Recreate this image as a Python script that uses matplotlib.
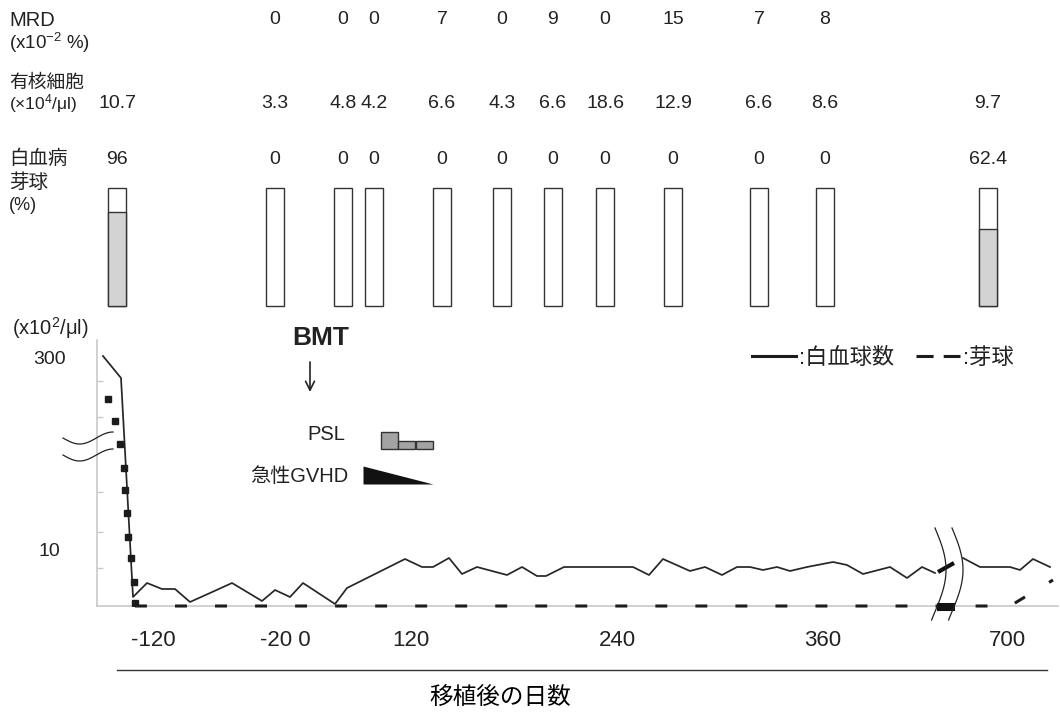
import numpy as np
import matplotlib
matplotlib.use("Agg")
import matplotlib.pyplot as plt
from matplotlib.lines import Line2D

plt.rcParams["font.family"] = ["Liberation Sans", "Noto Sans CJK JP"]
plt.rcParams["mathtext.default"] = "regular"
plt.rcParams["text.color"] = "#222222"

# ==========================================================
# Data (x = position on the timeline, y = plotted height)
# ==========================================================

# marrow samples along the timeline
sample_pos = [20, 178, 246, 277, 345, 405, 456, 508, 576, 662, 728, 891]
mrd = ["", "0", "0", "0", "7", "0", "9", "0", "15", "7", "8", ""]
nucleated = ["10.7", "3.3", "4.8", "4.2", "6.6", "4.3", "6.6", "18.6", "12.9", "6.6", "8.6", "9.7"]
blast_pct = [96, 0, 0, 0, 0, 0, 0, 0, 0, 0, 0, 62.4]
blast_fill = [0.80, 0, 0, 0, 0, 0, 0, 0, 0, 0, 0, 0.65]

# white blood cell count
wbc_x = [6, 24, 36, 50, 65, 78, 93, 113, 135, 165, 178, 193, 206, 238, 250,
         308, 325, 336, 352, 365, 380, 410, 425, 440, 449, 467, 536, 552,
         566, 593, 608, 625, 640, 653, 666, 680, 693, 710, 736, 750, 766,
         793, 810, 825, 838, np.nan, 866, 883, 913, 923, 936, 953]
wbc_y = [250, 228, 9, 23, 17, 17, 4, 13, 23, 5, 16, 9, 23, 2, 18,
         47, 39, 39, 48, 32, 39, 31, 39, 30, 30, 39, 39, 31,
         47, 35, 39, 31, 39, 39, 36, 39, 35, 39, 44, 41, 32,
         39, 28, 39, 33, np.nan, 48, 39, 39, 36, 47, 39]
wbc_break_x = [841, 857]
wbc_break_y = [34, 43]

# blasts
blast_drop_x = [11, 18, 23, 27, 28, 30, 31, 34, 37, 38]
blast_drop_y = [207, 185, 162, 138, 116, 93, 69, 48, 24, 3]
blast_x = [38, 913, 956]
blast_y = [0, 0, 26]
blast_break_x = [840, 858]
blast_break_y = [-1, -1]

# PSL steps and acute GVHD
psl_start = [284, 301, 319]
psl_height = [17, 8, 8]
gvhd_x = [266, 336]
gvhd_grade = [18, 0]

day_tick_pos = [56, 188, 314, 520, 726, 910]
day_tick_labels = ["-120", "-20 0", "120", "240", "360", "700"]
wbc_tick_pos = [248, 56]
wbc_tick_labels = ["300", "10"]
wbc_minor_pos = [225, 189, 114, 74, 38]

INK = "#1c1c1c"
GRID = "#c8c8c8"

# ==========================================================
# Figure
# ==========================================================

W, H = 1060, 714
fig = plt.figure(figsize=(W / 100, H / 100), dpi=100)

ax_top = fig.add_axes([97 / W, (H - 320) / H, 961 / W, 320 / H])
ax = fig.add_axes([97 / W, (H - 606) / H, 961 / W, 266 / H])

# ----------------------------------------------------------
# Top panel: marrow findings
# ----------------------------------------------------------

ax_top.set_xlim(0, 961)
ax_top.set_ylim(0, 320)
ax_top.axis("off")

ax_top.bar(sample_pos, 118, bottom=14, width=18,
           facecolor="white", edgecolor="#333333", linewidth=1)
fill_pos = [p for p, f in zip(sample_pos, blast_fill) if f > 0]
fill_h = [f * 118 for f in blast_fill if f > 0]
ax_top.bar(fill_pos, fill_h, bottom=14, width=18,
           facecolor="#d3d3d3", edgecolor="#333333", linewidth=1)

for x, m, n, b in zip(sample_pos, mrd, nucleated, blast_pct):
    ax_top.text(x, 300, m, ha="center", va="center", fontsize=14)
    ax_top.text(x, 217, n, ha="center", va="center", fontsize=14)
    ax_top.text(x, 161, f"{b:g}", ha="center", va="center", fontsize=14)

row_labels = [
    (300, "MRD", 14.5),
    (277, "(x10$^{-2}$ %)", 13.5),
    (237, "有核細胞", 13.5),
    (216, "(×10$^4$/μl)", 12.5),
    (161, "白血病", 14),
    (137, "芽球", 14),
    (114, "(%)", 13),
]
for y, label, size in row_labels:
    ax_top.text(-88, y, label, ha="left", va="center", fontsize=size)

# ----------------------------------------------------------
# Bottom panel: blood counts
# ----------------------------------------------------------

ax.set_xlim(0, 961)
ax.set_ylim(0, 266)
for side in ["top", "right"]:
    ax.spines[side].set_visible(False)
for side in ["left", "bottom"]:
    ax.spines[side].set_color(GRID)
    ax.spines[side].set_linewidth(1.2)

ax.plot(wbc_x, wbc_y, color="#262626", linewidth=1.25, zorder=3)
ax.plot(wbc_break_x, wbc_break_y, color="#111111", linewidth=3,
        solid_capstyle="butt", zorder=3)

ax.plot(blast_drop_x, blast_drop_y, linestyle="none", marker="s",
        markersize=3.8, color=INK, zorder=3)
ax.plot(blast_x, blast_y, color=INK, linewidth=2.2, dashes=(3.9, 9.2),
        clip_on=False, zorder=3)
ax.plot(blast_break_x, blast_break_y, color="#111111", linewidth=5.8,
        solid_capstyle="butt", clip_on=False, zorder=3)

# axis break marks
t = np.linspace(0, 1, 60)
for c in (168, 151):
    ax.plot(-34 + 50 * t, c + 6 * np.sin(np.pi * (1.5 * t + 1)),
            color="#222222", linewidth=0.9, clip_on=False, zorder=4)
for c in (838, 855):
    ax.plot(c + 11 * np.sin(np.pi * 1.1 * t), 78 - 92 * t,
            color="#222222", linewidth=0.9, clip_on=False, zorder=4)

# ticks
ax.set_yticks(wbc_tick_pos, wbc_tick_labels)
ax.tick_params(axis="y", which="major", length=0, pad=34, labelsize=14,
               labelcolor="#222222")
for lbl in ax.get_yticklabels():
    lbl.set_ha("center")
ax.set_yticks(wbc_minor_pos, minor=True)
ax.tick_params(axis="y", which="minor", direction="in", length=4.5,
               color=GRID, width=1)

ax.set_xticks(day_tick_pos, day_tick_labels)
ax.tick_params(axis="x", length=0, pad=17, labelsize=16,
               labelcolor="#222222")

ax.set_xlabel("移植後の日数", fontsize=17)
ax.xaxis.set_label_coords(0.42, -0.305)

sec = ax.secondary_xaxis(-64 / 266)
sec.set_xticks([])
sec.spines["bottom"].set_bounds(20, 950)
sec.spines["bottom"].set_color("#333333")
sec.spines["bottom"].set_linewidth(1)

ax.text(-85, 278, "(x10$^2$/μl)", ha="left", va="center", fontsize=14.5)

# BMT marker
ax.text(224, 268, "BMT", ha="center", va="center", fontsize=19,
        fontweight="bold")
ax.annotate("", xy=(213, 214), xytext=(213, 244),
            arrowprops=dict(arrowstyle="->", color="#222222", lw=1.2,
                            mutation_scale=16, shrinkA=0, shrinkB=0))

# PSL
ax.bar(psl_start, psl_height, width=17, bottom=157, align="edge",
       facecolor="#a3a3a3", edgecolor="#333333", linewidth=1)
ax.text(248, 171, "PSL", ha="right", va="center", fontsize=14.5)

# acute GVHD
ax.fill_between(gvhd_x, 122, [122 + g for g in gvhd_grade],
                color="#111111", linewidth=0)
ax.text(251, 129, "急性GVHD", ha="right", va="center", fontsize=14.5)

# legend
h_wbc = Line2D([], [], color=INK, linewidth=2.2)
h_blast = Line2D([], [], color=INK, linewidth=2.2, dashes=(5.6, 3.3))
ax.legend([h_wbc, h_blast], [":白血球数", ":芽球"],
          loc="center left", bbox_to_anchor=(655, 248),
          bbox_transform=ax.transData, ncol=2, frameon=False, fontsize=16,
          handlelength=2.0, handletextpad=0.1, columnspacing=1.0,
          borderpad=0, borderaxespad=0)

fig.savefig("out.png", dpi=100)
